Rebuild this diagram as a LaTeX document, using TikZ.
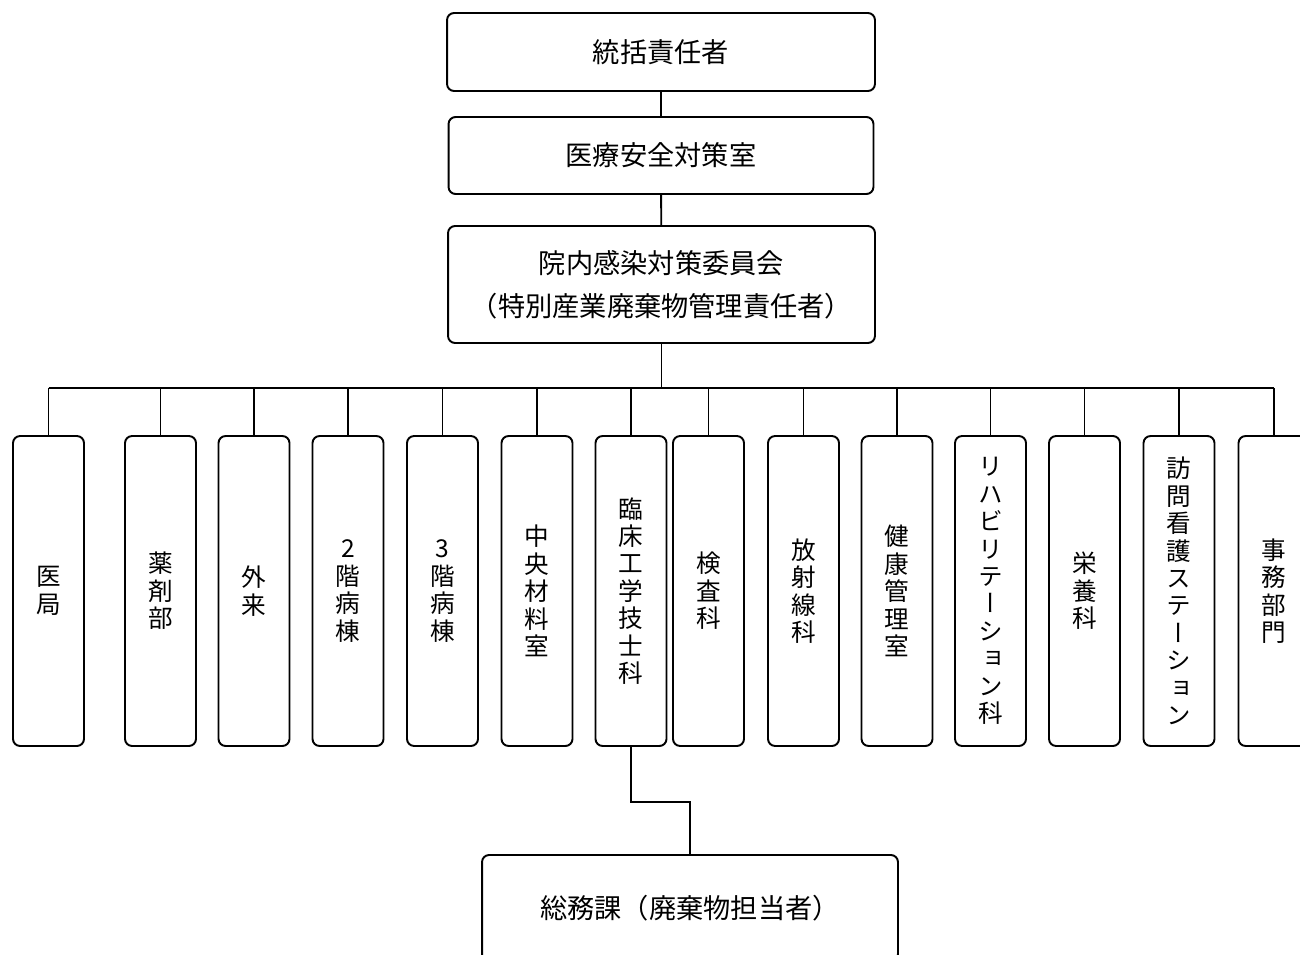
\documentclass[tikz,border=0pt]{standalone}
\usepackage{fontspec}
\usepackage{tikz}
\newfontfamily\jpfont{Noto Sans CJK JP}
\newfontfamily\tatefont[RawFeature=+vert]{Noto Sans CJK JP}
\tikzset{
  line/.style={draw=black, line width=1.1pt},
  hbox/.style={draw=black, line width=1.1pt, rounded corners=4pt, inner sep=0pt,
    align=center, font={\jpfont\fontsize{15.5}{24.4}\selectfont}},
  vbox/.style={draw=black, line width=1.1pt, rounded corners=4pt, inner sep=0pt,
    minimum width=1.42cm, minimum height=6.2cm, align=center,
    font={\tatefont\fontsize{14}{15.6}\selectfont}}
}
\begin{document}
\begin{tikzpicture}[x=0.02cm, y=-0.02cm]
  \useasboundingbox (0,0) rectangle (1300,955);

  \node[hbox, minimum width=8.56cm, minimum height=1.56cm] (T) at (661,52) {統括責任者};
  \node[hbox, minimum width=8.5cm, minimum height=1.54cm] (S) at (661,155.5) {医療安全対策室};
  \node[hbox, minimum width=8.54cm, minimum height=2.34cm] (K) at (661.5,284.5)
    {院内感染対策委員会\\（特別産業廃棄物管理責任者）};
  \coordinate (bus) at (661,388);

  \node[vbox] (d1) at (48.5,591) {医\\局};
  \node[vbox] (d2) at (160.5,591) {薬\\剤\\部};
  \node[vbox] (d3) at (254,591) {外\\来};
  \node[vbox] (d4) at (348,591) {2\\階\\病\\棟};
  \node[vbox] (d5) at (442.5,591) {3\\階\\病\\棟};
  \node[vbox] (d6) at (537,591) {中\\央\\材\\料\\室};
  \node[vbox] (d7) at (631,591) {臨\\床\\工\\学\\技\\士\\科};
  \node[vbox] (d8) at (708.5,591) {検\\査\\科};
  \node[vbox] (d9) at (803.5,591) {放\\射\\線\\科};
  \node[vbox] (d10) at (897,591) {健\\康\\管\\理\\室};
  \node[vbox] (d11) at (990.5,591) {リ\\ハ\\ビ\\リ\\テ\\ー\\シ\\ョ\\ン\\科};
  \node[vbox] (d12) at (1084.5,591) {栄\\養\\科};
  \node[vbox] (d13) at (1179,591) {訪\\問\\看\\護\\ス\\テ\\ー\\シ\\ョ\\ン};
  \node[vbox] (d14) at (1274,591) {事\\務\\部\\門};

  \node[hbox, minimum width=8.32cm, minimum height=2.12cm] (G) at (690,908) {総務課（廃棄物担当者）};

  \draw[line] (T) -- (S);
  \draw[line] (S) -- (K);
  \draw[line] (K.south) -- (K.south |- bus);
  \draw[line] (bus -| d1.north) -- (bus -| d14.north);
  \foreach \n in {1,...,14}
    \draw[line] (bus -| d\n.north) -- (d\n.north);
  \draw[line] (d7.south) -- ++(0,55) -| (G.north);
\end{tikzpicture}
\end{document}
